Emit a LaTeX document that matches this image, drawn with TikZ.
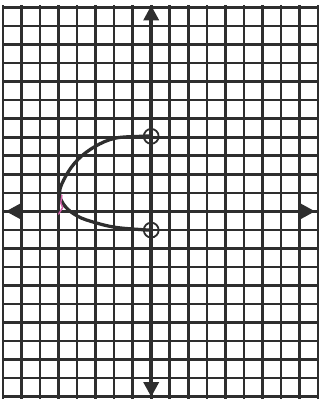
\documentclass[tikz,border=0pt]{standalone}
\usetikzlibrary{arrows.meta}
\definecolor{ink}{HTML}{2E2E2E}
\definecolor{pinkmark}{HTML}{D060A8}
\begin{document}
\begin{tikzpicture}[x=1cm,y=1.012cm,
  gridline/.style={ink,line width=4pt},
  axisline/.style={ink,line width=5.5pt,-{Triangle[length=0.8cm,width=0.8cm]}},
  curveline/.style={ink,line width=5pt,line cap=round},
  dotring/.style={ink,line width=2.8pt}]
\useasboundingbox[fill=white] (-8.16,-10.22) rectangle (9.11,11.27);
% grid
\draw[gridline] (-8,-10) grid (9,11);
% axes
\coordinate (o) at (0,0);
\coordinate (xl) at (-7.85,0);
\coordinate (xr) at (8.85,0);
\coordinate (yt) at (0,10.98);
\coordinate (yb) at (0,-9.9);
\draw[axisline] (o) -- (xl);
\draw[axisline] (o) -- (xr);
\draw[axisline] (o) -- (yt);
\draw[axisline] (o) -- (yb);
% curve
\draw[curveline] plot[smooth,tension=0.6] coordinates {
 (0,4.02) (-0.6,4.0) (-1.95,3.9) (-3.03,3.46) (-3.95,2.77) (-4.6,1.9) (-4.95,1.0)
 (-4.65,0.27) (-3.95,-0.27) (-3.03,-0.6) (-1.95,-0.85) (-0.6,-0.97) (0,-1)};
% pink mark
\draw[pinkmark,line width=2.2pt,line cap=round] (-4.82,0.85) -- (-4.88,0.45) -- (-4.78,0.2) -- (-5.0,-0.15);
% circled points
\coordinate (p1) at (0,4);
\coordinate (p2) at (0,-1);
\draw[dotring] (p1) circle (0.4cm);
\draw[dotring] (p2) circle (0.4cm);
\end{tikzpicture}
\end{document}
